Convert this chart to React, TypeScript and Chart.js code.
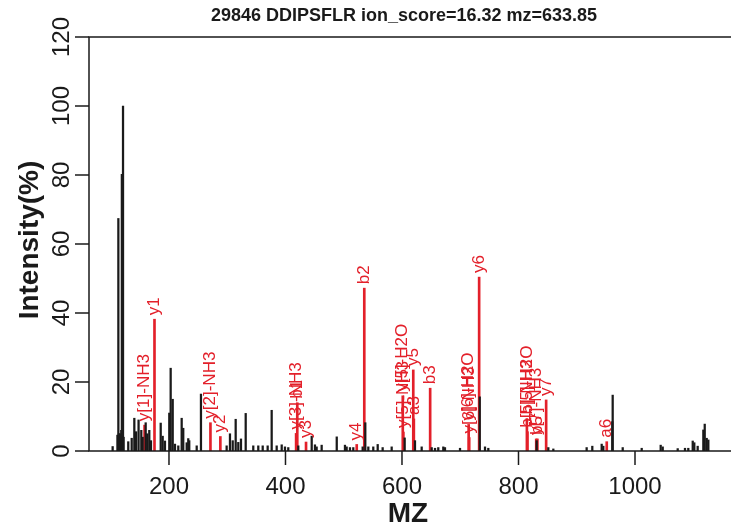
import React, { useEffect, useRef } from 'react';
import { Chart, registerables } from 'chart.js';

Chart.register(...registerables);

const TITLE = '29846 DDIPSFLR ion_score=16.32 mz=633.85';
const X_TITLE = 'MZ';
const Y_TITLE = 'Intensity(%)';

const xTicks = [200, 400, 600, 800, 1000];
const yTicks = [0, 20, 40, 60, 80, 100, 120];
const X_MIN = 62.7;
const X_MAX = 1164.8;

// unmatched (black) peaks
const peakMz = [
  103.3, 111.5, 113.1, 114.1, 115.1, 116.1, 117.1, 118.1, 119.1, 120.1, 121.1, 122.1,
  130.1, 136.0, 140.5, 143.5, 147.8, 152.5, 154.8, 160.0, 162.7, 166.2, 169.1,
  185.8, 189.2, 193.1, 200.5, 202.9, 206.4, 210.3, 216.0, 221.8, 224.5, 230.4, 233.1, 234.8,
  247.6, 254.9, 299.0, 304.7, 309.4, 314.5, 319.0, 323.6, 331.7, 344.7, 353.3, 360.9,
  369.4, 376.3, 384.9, 393.5, 399.1, 404.8, 422.0, 445.0, 450.6, 453.5, 462.1, 488.0,
  502.1, 505.0, 510.7, 516.4, 532.5, 537.0, 542.2, 550.7, 558.3, 566.8, 582.3, 604.6,
  622.3, 633.8, 651.0, 656.7, 662.3, 670.9, 673.8, 699.6, 733.5, 742.5, 748.2, 831.2,
  851.2, 859.8, 917.0, 926.7, 942.8, 945.6, 961.0, 961.7, 978.9, 1011.5, 1044.1, 1047.6,
  1073.3, 1085.8, 1091.5, 1099.1, 1101.8, 1107.6, 1117.3, 1119.7, 1123.1, 1125.9,
];
const peakIntensity = [
  1.3, 4.6, 67.4, 5, 4, 5, 4, 6, 80.2, 5, 100, 4,
  2.7, 3.7, 9.5, 5.6, 9, 6, 4, 8.2, 5, 6, 3,
  8.1, 4.3, 2.9, 11, 24, 15, 2, 1.5, 9.5, 6.6, 2.4, 3.6, 3,
  1.5, 16.5, 1.5, 5, 3, 9.2, 2.5, 3.5, 10.9, 1.5, 1.5, 1.5,
  1.5, 11.8, 1.5, 1.8, 1.2, 1, 1.5, 4.3, 1.8, 1.2, 1.7, 4.1,
  1.7, 1.2, 1, 1, 1.2, 8.2, 1.2, 1.2, 1.9, 1, 1.2, 3.8,
  3, 1.2, 1, 0.8, 1, 1.2, 1, 0.8, 15.7, 1.2, 0.8, 3,
  1, 0.6, 1, 1.4, 2, 1.4, 8.5, 16.2, 1, 0.8, 1.7, 1.2,
  0.7, 0.8, 0.8, 2.9, 2.4, 1.4, 6.1, 7.8, 3.7, 3.2,
];

// matched (red) fragment ions
const ionMz = [
  158.09, 175.12, 271.18, 288.2, 418.24, 420.24, 435.27, 522.3, 535.27,
  601.35, 602.33, 619.36, 620.35, 648.35, 714.43, 715.41, 732.44,
  814.43, 815.41, 830.44, 832.44, 847.47, 951.5,
];
const ionIntensity = [
  7.5, 38.2, 8.2, 4.2, 5.1, 14, 2.6, 1.9, 47.2,
  16, 5.5, 23.5, 9.3, 18.2, 7.7, 3.9, 50.4,
  9.4, 5.6, 3.5, 3.5, 14.8, 2.7,
];
const ionLabels = [
  'y[1]-NH3', 'y1', 'y[2]-NH3', 'y2', 'y[3]-NH3', 'b1', 'y3', 'y4', 'b2',
  'y[5]-H2O', 'y[5]-NH3', 'y5', 'a3', 'b3', 'y[6]-H2O', 'y[6]-NH3', 'y6',
  'b[5]-H2O', 'b[5]-NH3', 'y[7]-NH3', 'b5', 'y7', 'a6',
];

const FONT = '"Liberation Sans", Arial, Helvetica, sans-serif';
const RED = '#e3202a';
const INK = '#1a1a1a';

const rPlotPlugin = {
  id: 'rPlot',
  afterDatasetsDraw(chart: any) {
    const { ctx, chartArea: a, scales } = chart;
    const xs = scales.x;
    const ys = scales.y;
    ctx.save();

    // ion labels
    ctx.fillStyle = RED;
    ctx.font = `17px ${FONT}`;
    ctx.textAlign = 'left';
    ctx.textBaseline = 'middle';
    ionMz.forEach((m, i) => {
      const px = xs.getPixelForValue(m);
      const py = ys.getPixelForValue(ionIntensity[i]) - 4;
      ctx.save();
      ctx.translate(px, py);
      ctx.rotate(-Math.PI / 2);
      ctx.fillText(ionLabels[i], 0, 0);
      ctx.restore();
    });

    // box
    ctx.strokeStyle = INK;
    ctx.lineWidth = 1.5;
    ctx.beginPath();
    ctx.moveTo(a.right + 2, a.top);
    ctx.lineTo(a.left, a.top);
    ctx.lineTo(a.left, a.bottom);
    ctx.lineTo(a.right + 2, a.bottom);
    ctx.stroke();

    // x ticks
    ctx.fillStyle = INK;
    ctx.font = `24px ${FONT}`;
    ctx.textAlign = 'center';
    ctx.textBaseline = 'middle';
    xTicks.forEach((t) => {
      const px = xs.getPixelForValue(t);
      ctx.beginPath();
      ctx.moveTo(px, a.bottom);
      ctx.lineTo(px, a.bottom + 14);
      ctx.stroke();
      ctx.fillText(String(t), px, a.bottom + 36);
    });

    // y ticks
    yTicks.forEach((t) => {
      const py = ys.getPixelForValue(t);
      ctx.beginPath();
      ctx.moveTo(a.left, py);
      ctx.lineTo(a.left - 14, py);
      ctx.stroke();
      ctx.save();
      ctx.translate(a.left - 27, py);
      ctx.rotate(-Math.PI / 2);
      ctx.fillText(String(t), 0, 0);
      ctx.restore();
    });

    // titles
    ctx.font = `bold 18px ${FONT}`;
    ctx.fillText(TITLE, 404, 16);
    ctx.font = `bold 28px ${FONT}`;
    ctx.fillText(X_TITLE, 408, 514);
    ctx.save();
    ctx.translate(30, 240);
    ctx.rotate(-Math.PI / 2);
    ctx.fillText(Y_TITLE, 0, 0);
    ctx.restore();

    ctx.restore();
  },
};

export default function App() {
  const ref = useRef<HTMLCanvasElement>(null);
  useEffect(() => {
    if (!ref.current) return;
    const chart = new Chart(ref.current, {
      type: 'bar',
      data: {
        datasets: [
          {
            data: peakMz.map((m, i) => ({ x: m, y: peakIntensity[i] })),
            backgroundColor: INK,
            barThickness: 1.6,
            stack: 'p',
          } as any,
          {
            data: ionMz.map((m, i) => ({ x: m, y: ionIntensity[i] })),
            backgroundColor: RED,
            barThickness: 2,
            stack: 'p',
          } as any,
        ],
      },
      options: {
        animation: false,
        responsive: false,
        devicePixelRatio: 1,
        layout: { padding: { left: 89, top: 37, right: 0, bottom: 78 } },
        plugins: { legend: { display: false }, tooltip: { enabled: false }, title: { display: false } },
        scales: {
          x: { type: 'linear', min: X_MIN, max: X_MAX, display: false, offset: false },
          y: { type: 'linear', min: 0, max: 120, display: false, stacked: false },
        },
      },
      plugins: [rPlotPlugin],
    });
    return () => chart.destroy();
  }, []);
  return (
    <div style={{ position: 'absolute', left: 0, top: 0, width: 731, height: 529, background: '#fff' }}>
      <canvas ref={ref} width={731} height={529} style={{ width: 731, height: 529, display: 'block' }} />
    </div>
  );
}
